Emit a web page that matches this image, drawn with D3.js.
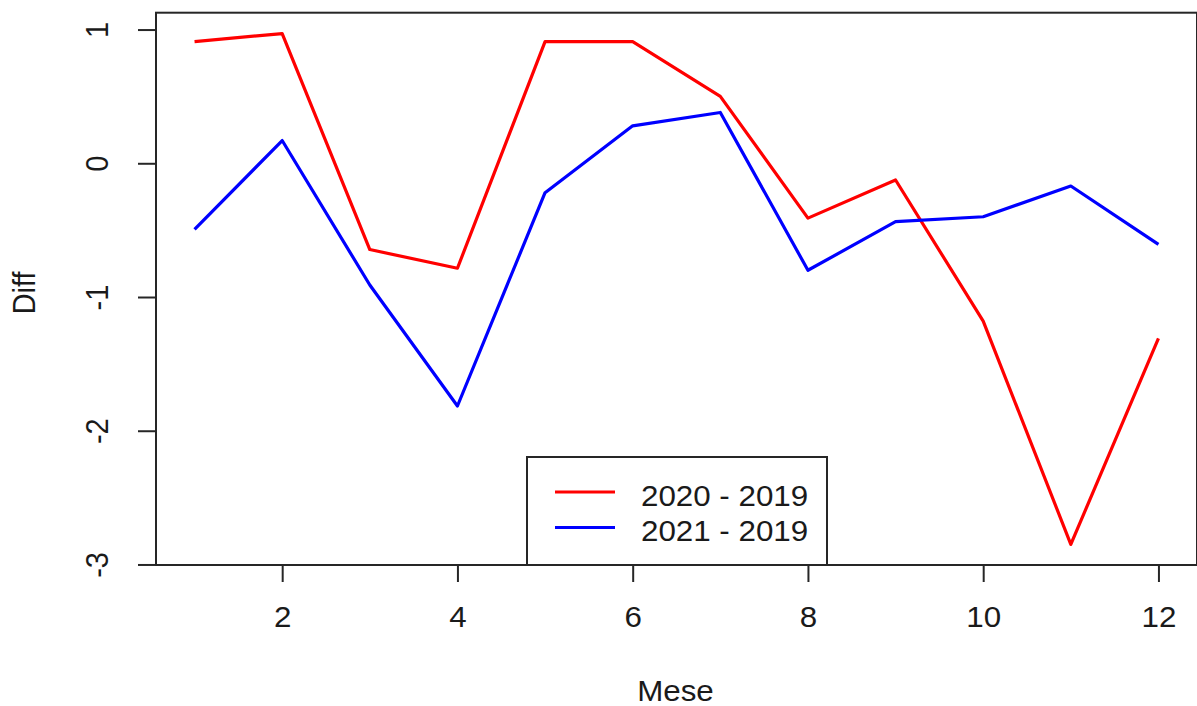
<!DOCTYPE html>
<html>
<head>
<meta charset="utf-8">
<script src="https://cdn.jsdelivr.net/npm/d3@7"></script>
<style>
  html, body { margin: 0; padding: 0; background: #fff; }
  svg { display: block; }
  text { font-family: "Liberation Sans", Arial, sans-serif; fill: #1a1a1a; }
</style>
</head>
<body>
<svg id="chart" width="1197" height="706"></svg>
<script>
const months = [1, 2, 3, 4, 5, 6, 7, 8, 9, 10, 11, 12];
const diff2020 = [0.91, 0.97, -0.645, -0.785, 0.91, 0.91, 0.50, -0.41, -0.125, -1.18, -2.85, -1.31];
const diff2021 = [-0.495, 0.17, -0.91, -1.815, -0.22, 0.28, 0.38, -0.80, -0.437, -0.40, -0.17, -0.606];
const xTicks = [2, 4, 6, 8, 10, 12];
const yTicks = [-3, -2, -1, 0, 1];
const seriesNames = ["2020 - 2019", "2021 - 2019"];
const seriesColors = ["#ff0000", "#0000ff"];
const xLabel = "Mese";
const yLabel = "Diff";

const svg = d3.select("#chart");
const x = d3.scaleLinear().domain([0.56, 12.44]).range([156, 1197]);
const y = d3.scaleLinear().domain([-3.004, 1.126]).range([565, 12.7]);
const axisColor = "#262626";
const fs = 29;
const sx = 1.08;
const fmt = d => String(d);

// x axis
const xAxis = svg.append("g")
  .attr("transform", `translate(0,${y.range()[0]})`)
  .call(d3.axisBottom(x).tickValues(xTicks).tickSize(17).tickPadding(24).tickFormat(fmt));
xAxis.select(".domain").remove();
xAxis.selectAll("line").attr("stroke", axisColor).attr("stroke-width", 2);
xAxis.selectAll("text")
  .attr("font-size", fs)
  .attr("font-family", "Liberation Sans, Arial, sans-serif")
  .attr("fill", "#1a1a1a")
  .attr("transform", `scale(${sx},1)`);

// y axis
const yAxis = svg.append("g")
  .attr("transform", `translate(${x.range()[0]},0)`)
  .call(d3.axisLeft(y).tickValues(yTicks).tickSize(18).tickFormat(fmt));
yAxis.select(".domain").remove();
yAxis.selectAll("line").attr("stroke", axisColor).attr("stroke-width", 2);
yAxis.selectAll("text")
  .attr("font-size", fs)
  .attr("font-family", "Liberation Sans, Arial, sans-serif")
  .attr("fill", "#1a1a1a")
  .attr("x", null).attr("dy", null)
  .attr("text-anchor", "middle")
  .attr("transform", `translate(-48,0) scale(${sx},1) rotate(-90)`);

// plot box
svg.append("rect")
  .attr("x", x.range()[0]).attr("y", y.range()[1])
  .attr("width", x.range()[1] - x.range()[0])
  .attr("height", y.range()[0] - y.range()[1])
  .attr("fill", "none").attr("stroke", axisColor).attr("stroke-width", 2);

// lines
const line = d3.line().x((d, i) => x(months[i])).y(d => y(d));
[diff2020, diff2021].forEach((s, k) => {
  svg.append("path").datum(s)
    .attr("d", line)
    .attr("fill", "none")
    .attr("stroke", seriesColors[k])
    .attr("stroke-width", 3.2)
    .attr("stroke-linejoin", "round");
});

// axis titles
svg.append("text")
  .attr("transform", `translate(${(x.range()[0] + x.range()[1]) / 2 - 1},701) scale(${sx},1)`)
  .attr("text-anchor", "middle")
  .attr("font-size", fs)
  .text(xLabel);
svg.append("text")
  .attr("transform", `translate(35,${(y.range()[0] + y.range()[1]) / 2 + 4}) scale(${sx},1) rotate(-90)`)
  .attr("text-anchor", "middle")
  .attr("font-size", fs)
  .text(yLabel);

// legend
const leg = svg.append("g");
leg.append("rect")
  .attr("x", 527).attr("y", 457)
  .attr("width", 300).attr("height", 565 - 457)
  .attr("fill", "#fff").attr("stroke", axisColor).attr("stroke-width", 2);
seriesNames.forEach((name, k) => {
  const ly = 492 + k * 35.5;
  leg.append("line")
    .attr("x1", 555).attr("x2", 615)
    .attr("y1", ly).attr("y2", ly)
    .attr("stroke", seriesColors[k]).attr("stroke-width", 3.2);
  leg.append("text")
    .attr("transform", `translate(641,${ly + 13.5}) scale(${sx},1)`)
    .attr("font-size", fs)
    .text(name);
});
</script>
</body>
</html>
